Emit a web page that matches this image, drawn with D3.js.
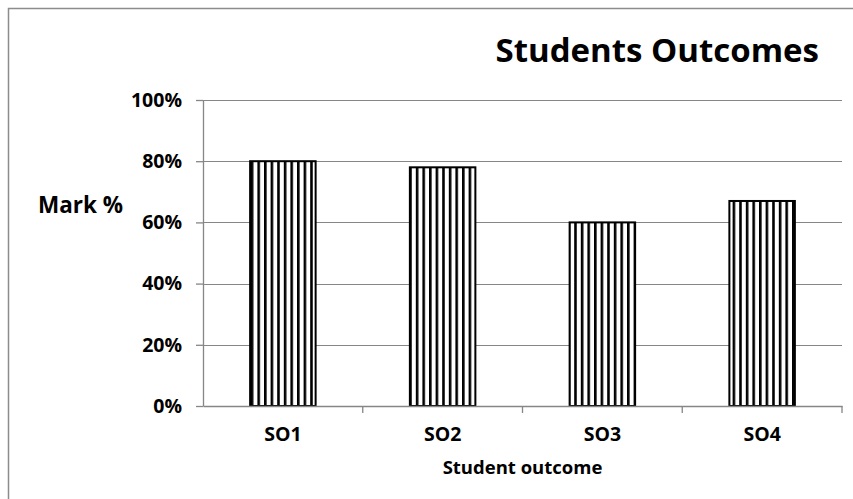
<!DOCTYPE html>
<html>
<head>
<meta charset="utf-8">
<title>Students Outcomes</title>
<style>
    body { margin: 0; background: #fff; }
    text {
        font-family: "Open Sans", "DejaVu Sans", sans-serif;
        font-weight: bold;
        fill: #000;
    }
    .grid line { stroke: #868686; stroke-width: 1px; }
    .axis path, .axis line { stroke: #868686; stroke-width: 1.3px; }
    .bar { fill: url(#vstripes); stroke: #000; stroke-width: 2px; }
</style>
</head>
<body>
<script src="https://cdn.jsdelivr.net/npm/d3@7"></script>
<script>

var categories = ["SO1", "SO2", "SO3", "SO4"];
var marks = [0.80, 0.78, 0.60, 0.67];
var yTicks = [0, 0.2, 0.4, 0.6, 0.8, 1.0];

var W = 853, H = 499;
var plotL = 203, plotR = 842, plotT = 100, plotB = 406;

var svg = d3.select("body").append("svg")
        .attr("width", W)
        .attr("height", H);

// vertical stripe fill like the excel pattern
var pat = svg.append("defs").append("pattern")
        .attr("id", "vstripes")
        .attr("patternUnits", "userSpaceOnUse")
        .attr("width", 6.6)
        .attr("height", 10);
pat.append("rect").attr("width", 6.6).attr("height", 10).attr("fill", "#fff");
pat.append("line")
        .attr("x1", 1.3).attr("x2", 1.3)
        .attr("y1", 0).attr("y2", 10)
        .attr("stroke", "#000").attr("stroke-width", 2.6);

// chart frame (right and bottom edges run off the picture)
svg.append("rect")
        .attr("x", 8.5).attr("y", 8.5)
        .attr("width", 1000).attr("height", 1000)
        .attr("fill", "none")
        .attr("stroke", "#8c8c8c")
        .attr("stroke-width", 1.5);

var x = d3.scaleBand()
        .domain(categories)
        .range([plotL, plotR])
        .paddingInner(0.59)
        .paddingOuter(0.295);

var y = d3.scaleLinear()
        .domain([0, 1])
        .range([plotB, plotT]);

//gridlines
svg.append("g")
        .attr("class", "grid")
        .selectAll("line")
        .data(yTicks.slice(1))
        .enter().append("line")
        .attr("x1", plotL).attr("x2", plotR)
        .attr("y1", function(d) { return Math.round(y(d)) + 0.5; })
        .attr("y2", function(d) { return Math.round(y(d)) + 0.5; });

//bars
svg.selectAll(".bar")
        .data(marks)
        .enter().append("rect")
        .attr("class", "bar")
        .attr("x", function(d, i) { return x(categories[i]); })
        .attr("width", x.bandwidth())
        .attr("y", function(d) { return y(d); })
        .attr("height", function(d) { return plotB - y(d); });

//y axis
var yAxis = svg.append("g")
        .attr("class", "axis")
        .attr("transform", "translate(" + plotL + ",0)")
        .call(d3.axisLeft(y)
            .tickValues(yTicks)
            .tickFormat(d3.format(".0%"))
            .tickSize(7)
            .tickSizeOuter(0)
            .tickPadding(14));
yAxis.selectAll("text").style("font-size", "19.5px");

//x axis, ticks sit between the categories
var xAxis = svg.append("g")
        .attr("class", "axis")
        .attr("transform", "translate(0," + plotB + ")")
        .call(d3.axisBottom(x).tickSize(0).tickSizeOuter(0).tickPadding(21));
xAxis.selectAll("text").style("font-size", "19.5px");
xAxis.selectAll(".sep")
        .data(categories)
        .enter().append("line")
        .attr("class", "sep")
        .attr("x1", function(d) { return x(d) + x.bandwidth() + x.step() * x.paddingInner() / 2; })
        .attr("x2", function(d) { return x(d) + x.bandwidth() + x.step() * x.paddingInner() / 2; })
        .attr("y1", 0)
        .attr("y2", 7);

//titles
svg.append("text")
        .attr("x", 819)
        .attr("y", 62)
        .attr("text-anchor", "end")
        .style("font-size", "33px")
        .text("Students Outcomes");

svg.append("text")
        .attr("x", 38)
        .attr("y", 213)
        .style("font-size", "22.5px")
        .text("Mark %");

svg.append("text")
        .attr("x", (plotL + plotR) / 2)
        .attr("y", 474)
        .attr("text-anchor", "middle")
        .style("font-size", "18.5px")
        .text("Student outcome");

</script>
</body>
</html>
